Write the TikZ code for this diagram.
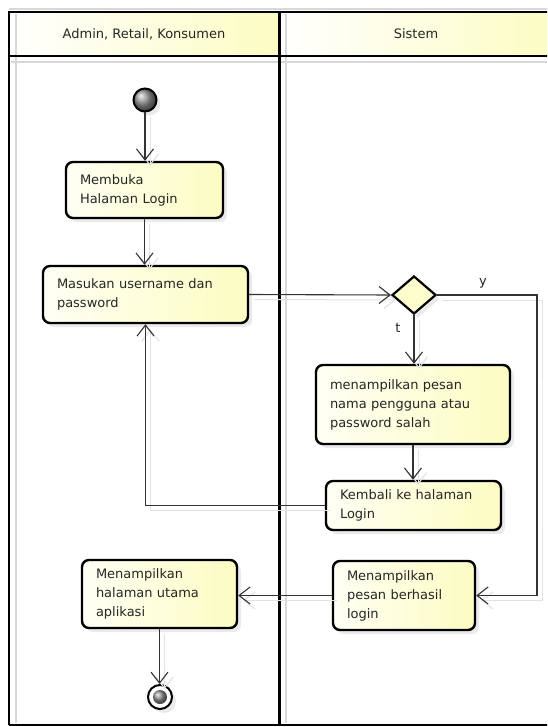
\documentclass[tikz,border=0pt]{standalone}
\usepackage{fontspec}
\setmainfont{DejaVu Sans}
\usetikzlibrary{arrows.meta,shapes.geometric,shadows}
\definecolor{txt}{HTML}{262626}
\definecolor{lnc}{HTML}{333333}
\definecolor{ylw}{HTML}{FCFCC2}
\definecolor{ylwl}{HTML}{FFFFF4}
\definecolor{shdc}{HTML}{D8D8D8}
\definecolor{lshd}{HTML}{E2E2E2}
\begin{document}
\begin{tikzpicture}[x=1pt,y=-1pt,
  font=\fontsize{13pt}{19pt}\selectfont, text=txt,
  myshadow/.style={drop shadow={shadow xshift=4pt, shadow yshift=-4pt, fill=black!16}},
  act/.style={draw=black, line width=2.4pt, rounded corners=7pt,
    left color=ylwl, right color=ylw, align=left, inner xsep=14pt, inner ysep=0pt, myshadow},
  lshadow/.style={preaction={draw=lshd, line width=1pt, transform canvas={shift={(5pt,-5pt)}}}},
  arr/.style={draw=lnc, line width=1.1pt, lshadow,
    -{Straight Barb[length=11pt,width=17pt,line width=1.1pt]}},
  lbl/.style={inner sep=0pt}
]
\useasboundingbox (0,0) rectangle (547,727);
\clip (0,0) rectangle (547,727);
\fill[white] (0,0) rectangle (547,727);

% header fills
\shade[left color=white, right color=ylw] (9,12) rectangle (279,56);
\shade[left color=white, right color=ylw] (280,12) rectangle (560,56);

% lane shadow lines
\draw[shdc, line width=2pt] (16,14) -- (16,723);
\draw[shdc, line width=2pt] (286,14) -- (286,723);
\draw[shdc, line width=2pt] (11,62) -- (560,62);
\draw[shdc, line width=1.5pt] (9,9) -- (560,9);

% frame
\draw[black, line width=2.4pt] (9,725) -- (9,12) -- (560,12);
\draw[black, line width=2.4pt] (9,725) -- (560,725);
\draw[black, line width=2.4pt] (9,56) -- (560,56);
\draw[black, line width=2.4pt] (279.5,12) -- (279.5,725);

\node[lbl] (h1) at (144,34) {Admin, Retail, Konsumen};
\node[lbl] (h2) at (416,34) {Sistem};

% nodes
\node[circle, draw=black, line width=2pt, ball color=gray!85, minimum size=23pt, inner sep=0pt, myshadow] (start) at (145,100) {};

\node[act, minimum height=56pt, text width=129pt] (membuka) at (144.5,190) {Membuka\\Halaman Login};
\node[act, minimum height=57pt, text width=177pt] (masukan) at (145.5,294.5) {Masukan username dan\\password};

\node[diamond, draw=black, line width=2.2pt, fill=ylw!80!white, minimum width=44pt, minimum height=38pt,
  inner sep=0pt, aspect=1.16, myshadow] (dec) at (414,295) {};

\node[act, minimum height=79pt, text width=166pt] (pesan) at (413,404.5) {menampilkan pesan\\nama pengguna atau\\password salah};
\node[act, minimum height=49pt, text width=147pt] (kembali) at (413.5,505.5) {Kembali ke halaman\\Login};
\node[act, minimum height=69pt, text width=114pt] (berhasil) at (404,595.5) {Menampilkan\\pesan berhasil\\login};
\node[act, minimum height=68pt, text width=127pt] (utama) at (159.5,594) {Menampilkan\\halaman utama\\aplikasi};

\node[circle, draw=black, line width=2pt, fill=white, minimum size=24pt, inner sep=0pt, myshadow] (endo) at (160,697) {};
\node[circle, ball color=gray!85, minimum size=14pt, inner sep=0pt] (endi) at (160,697) {};

\coordinate (yc) at (537,450);

\node[lbl] (ly) at (483,283) {y};
\node[lbl] (lt) at (398,328) {t};

% connectors
\draw[arr] (start.south) -- (start.south |- membuka.north);
\draw[arr] (membuka.south) -- (membuka.south |- masukan.north);
\draw[arr] (masukan.east) -- (dec.west);
\draw[arr] (dec.south) -- (dec.south |- pesan.north);
\draw[arr] (pesan.south) -- (pesan.south |- kembali.north);
\draw[arr] (kembali.west) -| (masukan.south);
\draw[arr] (dec.east) -| (yc) |- (berhasil.east);
\draw[arr] (berhasil.west) -- (berhasil.west -| utama.east);
\draw[arr] (utama.south) -- (utama.south |- endo.north);
\end{tikzpicture}
\end{document}
